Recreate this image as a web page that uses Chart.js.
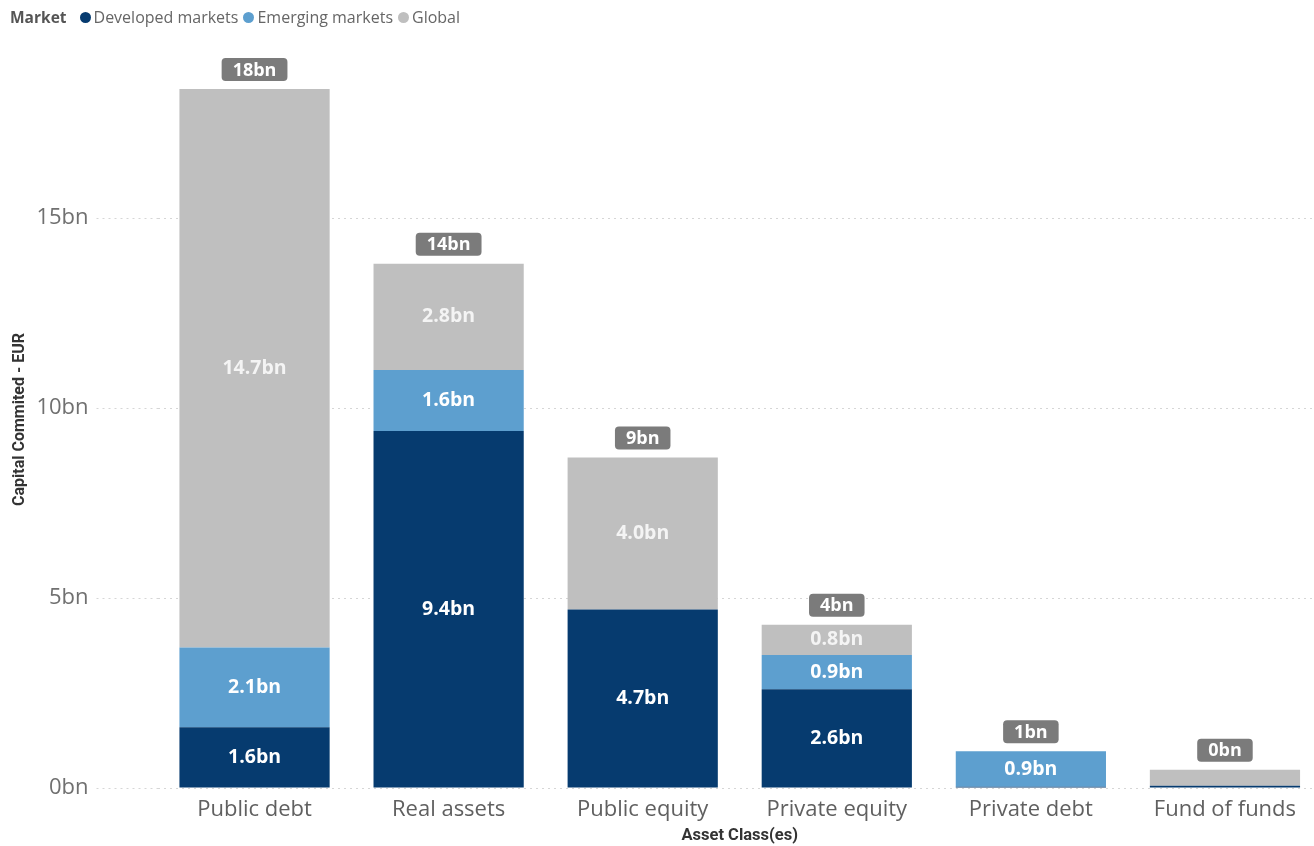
<!DOCTYPE html>
<html>
<head>
<meta charset="utf-8">
<script src="https://cdn.jsdelivr.net/npm/chart.js@4.4.1/dist/chart.umd.min.js"></script>
<style>
  body { margin:0; background:#fff; font-family:"Open Sans", sans-serif; overflow:hidden; }
  #wrap { position:relative; width:1314px; height:846px; overflow:hidden; }
  #legend { position:absolute; left:10px; top:6px; font-size:16px; color:#666; display:flex; align-items:center; white-space:nowrap; }
  #legend b { color:#555; margin-right:8px; font-size:15.5px; }
  #legend .dot { display:inline-block; width:11px; height:11px; border-radius:50%; margin:0 3px 0 5px; }
  canvas { display:block; }
</style>
</head>
<body>
<div id="wrap">
  <div id="legend"></div>
  <canvas id="myChart" width="1322" height="846"></canvas>
</div>
<script>
const categories = ['Public debt', 'Real assets', 'Public equity', 'Private equity', 'Private debt', 'Fund of funds'];
const developed = [1.6, 9.4, 4.7, 2.6, 0.03, 0.06];
const emerging  = [2.1, 1.6, 0, 0.9, 0.94, 0];
const global    = [14.7, 2.8, 4.0, 0.8, 0, 0.42];
const yTicks = [0, 5, 10, 15];

const seriesNames = ['Developed markets', 'Emerging markets', 'Global'];
const seriesColors = ['#063b6f', '#5d9fcf', '#bfbfbf'];

// legend
const legendEl = document.getElementById('legend');
legendEl.innerHTML = '<b>Market</b>' + seriesNames.map(function(n, i){
  return '<span class="dot" style="background:' + seriesColors[i] + '"></span>' + n;
}).join('');

const labelsPlugin = {
  id: 'barLabels',
  afterDatasetsDraw(chart) {
    const ctx = chart.ctx;
    ctx.save();
    ctx.textAlign = 'center';
    ctx.textBaseline = 'middle';
    ctx.font = 'bold 19.5px "Open Sans", sans-serif';
    chart.data.datasets.forEach(function(ds, di){
      const meta = chart.getDatasetMeta(di);
      meta.data.forEach(function(bar, i){
        const v = ds.data[i];
        const h = bar.base - bar.y;
        if (!v || h < 20) return;
        ctx.fillStyle = di == 2 ? '#f4f4f4' : '#ffffff';
        ctx.fillText(v.toFixed(1) + 'bn', bar.x, (bar.y + bar.base) / 2);
      });
    });
    // totals on top
    ctx.font = 'bold 18px "Open Sans", sans-serif';
    const last = chart.getDatasetMeta(chart.data.datasets.length - 1);
    last.data.forEach(function(bar, i){
      let total = 0;
      chart.data.datasets.forEach(function(ds){ total += ds.data[i]; });
      const txt = Math.round(total) + 'bn';
      const w = ctx.measureText(txt).width + 22;
      const bh = 23;
      const top = bar.y - 8 - bh;
      ctx.fillStyle = '#7b7b7b';
      ctx.beginPath();
      ctx.roundRect(bar.x - w / 2, top, w, bh, 4);
      ctx.fill();
      ctx.fillStyle = '#ffffff';
      ctx.fillText(txt, bar.x, top + bh / 2 + 1);
    });
    ctx.restore();
  }
};

const data = {
  labels: categories,
  datasets: [developed, emerging, global].map(function(arr, i){
    return {
      label: seriesNames[i],
      data: arr,
      backgroundColor: seriesColors[i],
      borderWidth: 0,
      barPercentage: 0.774,
      categoryPercentage: 1
    };
  })
};

const config = {
  type: 'bar',
  data: data,
  options: {
    responsive: false,
    animation: false,
    layout: { padding: { top: 51, right: 0, left: 10, bottom: 0 } },
    plugins: {
      legend: { display: false },
      tooltip: { enabled: false }
    },
    scales: {
      x: {
        stacked: true,
        afterFit: function(scale){ scale.height = 58; },
        grid: { display: false },
        border: { display: false },
        ticks: { color: '#606060', font: { size: 22, family: '"Open Sans", sans-serif' }, padding: 1 },
        title: { display: true, text: 'Asset Class(es)', color: '#333', font: { size: 16.5, weight: 'bold', family: 'Roboto, sans-serif' }, padding: { top: 0, bottom: 0 } }
      },
      y: {
        stacked: true,
        min: 0,
        max: 19.4,
        afterBuildTicks: function(scale){
          scale.ticks = yTicks.map(function(v){ return { value: v }; });
        },
        afterFit: function(scale){ scale.width = 147.5; },
        grid: {
          color: '#d6d6d6',
          tickBorderDash: [2, 4],
          tickColor: '#d6d6d6',
          tickLength: 61,
          lineWidth: 1
        },
        border: { display: false, dash: [2, 4] },
        ticks: {
          color: '#707070',
          padding: 8,
          font: { size: 22, family: '"Open Sans", sans-serif' },
          callback: function(v){ return v + 'bn'; }
        },
        title: { display: true, text: 'Capital Commited - EUR', color: '#333', font: { size: 16, weight: 'bold', family: 'Roboto, sans-serif' }, padding: { top: 0, bottom: 0 } }
      }
    }
  },
  plugins: [labelsPlugin]
};

const myChart = new Chart(document.getElementById('myChart'), config);
</script>
</body>
</html>
